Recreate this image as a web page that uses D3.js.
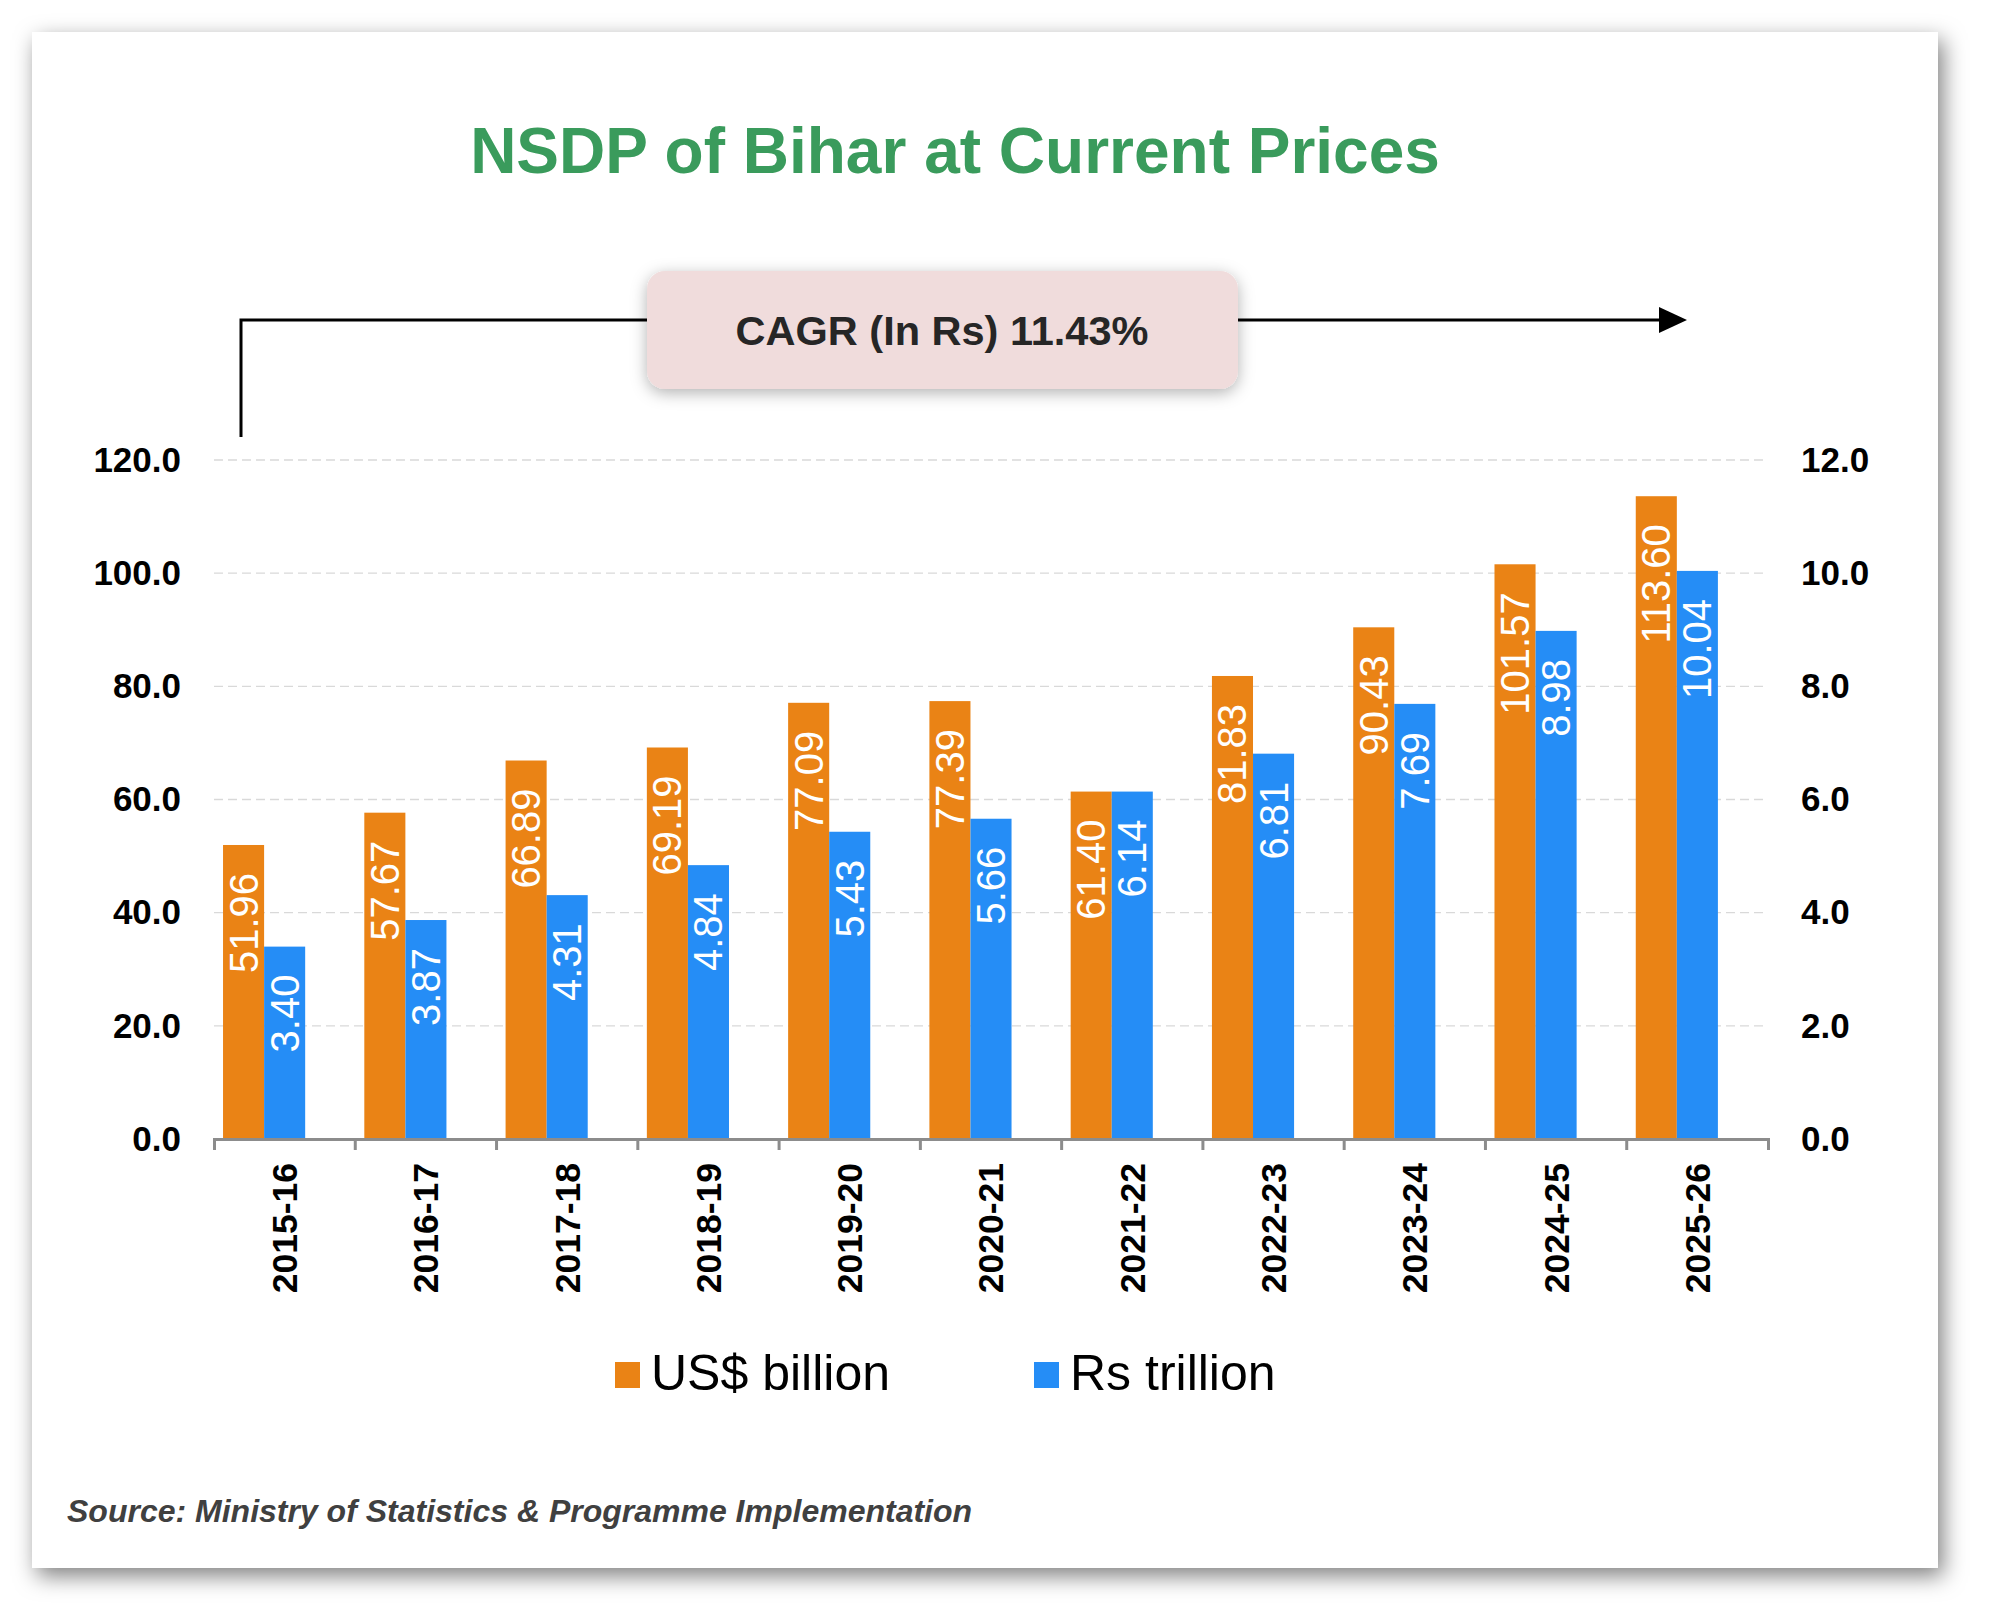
<!DOCTYPE html>
<html>
<head>
<meta charset="utf-8">
<script src="https://cdn.jsdelivr.net/npm/d3@7"></script>
<style>
  body { margin: 0; background: #fff; }
  svg { display: block; font-family: "Liberation Sans", Arial, sans-serif; }
</style>
</head>
<body>
<div id="chart"></div>
<script>
// The data
var years = ["2015-16", "2016-17", "2017-18", "2018-19", "2019-20", "2020-21",
             "2021-22", "2022-23", "2023-24", "2024-25", "2025-26"];
var usdBillion = [51.96, 57.67, 66.89, 69.19, 77.09, 77.39, 61.40, 81.83, 90.43, 101.57, 113.60];
var rsTrillion = [3.40, 3.87, 4.31, 4.84, 5.43, 5.66, 6.14, 6.81, 7.69, 8.98, 10.04];
var leftTicks = [0, 20, 40, 60, 80, 100, 120];
var rightTicks = [0, 2, 4, 6, 8, 10, 12];
var seriesNames = ["US$ billion", "Rs trillion"];
var cagrText = "CAGR (In Rs) 11.43%";

var orange = "#EA8315";
var blue = "#258DF6";

var svgWidth = 1989;
var svgHeight = 1620;

// plot box
var plot = { left: 214, right: 1768, top: 460, bottom: 1139 };

var svg = d3.select("#chart")
  .append("svg")
  .attr("width", svgWidth)
  .attr("height", svgHeight);

var defs = svg.append("defs");

// card shadow
defs.append("filter")
  .attr("id", "cardShadow")
  .attr("x", "-5%").attr("y", "-5%").attr("width", "112%").attr("height", "112%")
  .append("feDropShadow")
  .attr("dx", 5).attr("dy", 8)
  .attr("stdDeviation", 11)
  .attr("flood-color", "#000")
  .attr("flood-opacity", 0.5);

// softer shadow for the CAGR box
defs.append("filter")
  .attr("id", "boxShadow")
  .attr("x", "-20%").attr("y", "-40%").attr("width", "140%").attr("height", "180%")
  .append("feDropShadow")
  .attr("dx", 0).attr("dy", 4)
  .attr("stdDeviation", 8)
  .attr("flood-color", "#000")
  .attr("flood-opacity", 0.3);

// white card
svg.append("rect")
  .attr("x", 32).attr("y", 32)
  .attr("width", 1906).attr("height", 1536)
  .attr("fill", "#fff")
  .attr("filter", "url(#cardShadow)");

// title
svg.append("text")
  .attr("x", 955).attr("y", 173)
  .attr("text-anchor", "middle")
  .style("font-size", "64px")
  .style("font-weight", "bold")
  .style("fill", "#3A9B5C")
  .text("NSDP of Bihar at Current Prices");

// the CAGR connector line with the arrow
svg.append("path")
  .attr("d", "M241,437V320H1662")
  .attr("fill", "none")
  .attr("stroke", "#000")
  .attr("stroke-width", 3);

svg.append("path")
  .attr("d", "M1659,307L1687,320L1659,333Z")
  .attr("fill", "#000");

svg.append("rect")
  .attr("x", 647).attr("y", 271)
  .attr("width", 591).attr("height", 118)
  .attr("rx", 18)
  .attr("fill", "#F0DCDC")
  .attr("filter", "url(#boxShadow)");

svg.append("text")
  .attr("x", 942).attr("y", 345)
  .attr("text-anchor", "middle")
  .style("font-size", "41.5px")
  .style("font-weight", "bold")
  .style("fill", "#262626")
  .text(cagrText);

// scales
var xScale = d3.scaleBand()
  .domain(years)
  .range([plot.left, plot.right])
  .padding(0);

// bars sit in the left part of each band, third slot is just empty space
var xInner = d3.scaleBand()
  .domain(["usd", "rs", "none"])
  .range([0, xScale.bandwidth()])
  .paddingInner(0)
  .paddingOuter(0.22);

var yLeft = d3.scaleLinear().domain([0, 120]).range([plot.bottom, plot.top]);
var yRight = d3.scaleLinear().domain([0, 12]).range([plot.bottom, plot.top]);

// dashed gridlines
svg.append("g")
  .selectAll("line")
  .data(leftTicks.slice(1))
  .enter()
  .append("line")
  .attr("x1", plot.left)
  .attr("x2", plot.right)
  .attr("y1", d => yLeft(d))
  .attr("y2", d => yLeft(d))
  .attr("stroke", "#D9D9D9")
  .attr("stroke-width", 1.3)
  .attr("stroke-dasharray", "9,5");

// left axis
var leftAxis = svg.append("g")
  .attr("transform", `translate(${plot.left},0)`)
  .call(d3.axisLeft(yLeft).tickValues(leftTicks).tickFormat(d3.format(".1f")).tickSize(0).tickPadding(33));

// right axis
var rightAxis = svg.append("g")
  .attr("transform", `translate(${plot.right},0)`)
  .call(d3.axisRight(yRight).tickValues(rightTicks).tickFormat(d3.format(".1f")).tickSize(0).tickPadding(33));

[leftAxis, rightAxis].forEach(function(ax) {
  ax.select(".domain").remove();
  ax.selectAll("text")
    .style("font-family", "'Liberation Sans', Arial, sans-serif")
    .style("font-size", "35px")
    .style("font-weight", "bold")
    .style("fill", "#000");
});

// bars
var groups = svg.append("g")
  .selectAll("g")
  .data(years)
  .enter()
  .append("g")
  .attr("transform", d => `translate(${xScale(d)},0)`);

groups.append("rect")
  .attr("x", xInner("usd"))
  .attr("width", xInner.bandwidth())
  .attr("y", (d, i) => yLeft(usdBillion[i]))
  .attr("height", (d, i) => plot.bottom - yLeft(usdBillion[i]))
  .attr("fill", orange);

groups.append("rect")
  .attr("x", xInner("rs"))
  .attr("width", xInner.bandwidth())
  .attr("y", (d, i) => yRight(rsTrillion[i]))
  .attr("height", (d, i) => plot.bottom - yRight(rsTrillion[i]))
  .attr("fill", blue);

// value labels, rotated inside the bar tops
groups.append("text")
  .attr("transform", (d, i) => `translate(${xInner("usd") + xInner.bandwidth() / 2},${yLeft(usdBillion[i]) + 28}) rotate(-90)`)
  .attr("text-anchor", "end")
  .attr("dy", "0.35em")
  .style("font-size", "40px")
  .style("fill", "#fff")
  .text((d, i) => usdBillion[i].toFixed(2));

groups.append("text")
  .attr("transform", (d, i) => `translate(${xInner("rs") + xInner.bandwidth() / 2},${yRight(rsTrillion[i]) + 28}) rotate(-90)`)
  .attr("text-anchor", "end")
  .attr("dy", "0.35em")
  .style("font-size", "40px")
  .style("fill", "#fff")
  .text((d, i) => rsTrillion[i].toFixed(2));

// x axis: labels at band centers, ticks at band edges
var xAxis = svg.append("g")
  .attr("transform", `translate(0,${plot.bottom})`)
  .call(d3.axisBottom(xScale).tickSizeInner(0).tickSizeOuter(11).tickPadding(0));

xAxis.select(".domain")
  .attr("stroke", "#8C8C8C")
  .attr("stroke-width", 3);

xAxis.selectAll("text")
  .attr("transform", "rotate(-90)")
  .attr("x", -24)
  .attr("y", 0)
  .attr("dy", "0.35em")
  .attr("text-anchor", "end")
  .style("font-family", "'Liberation Sans', Arial, sans-serif")
  .style("font-size", "35.5px")
  .style("font-weight", "bold")
  .style("fill", "#000");

xAxis.append("g")
  .selectAll("line")
  .data(years.slice(1))
  .enter()
  .append("line")
  .attr("x1", d => xScale(d))
  .attr("x2", d => xScale(d))
  .attr("y1", 0)
  .attr("y2", 11)
  .attr("stroke", "#8C8C8C")
  .attr("stroke-width", 3);

// legend
var legendItems = [
  { name: seriesNames[0], color: orange, x: 615 },
  { name: seriesNames[1], color: blue, x: 1034 }
];

var legend = svg.append("g")
  .selectAll("g")
  .data(legendItems)
  .enter()
  .append("g")
  .attr("transform", d => `translate(${d.x},1362)`);

legend.append("rect")
  .attr("width", 25)
  .attr("height", 26)
  .attr("fill", d => d.color);

legend.append("text")
  .attr("x", 36)
  .attr("y", 28)
  .style("font-size", "50px")
  .style("fill", "#000")
  .text(d => d.name);

// source note
svg.append("text")
  .attr("x", 67).attr("y", 1522)
  .style("font-size", "32px")
  .style("font-weight", "bold")
  .style("font-style", "italic")
  .style("fill", "#404040")
  .text("Source: Ministry of Statistics & Programme Implementation");
</script>
</body>
</html>
